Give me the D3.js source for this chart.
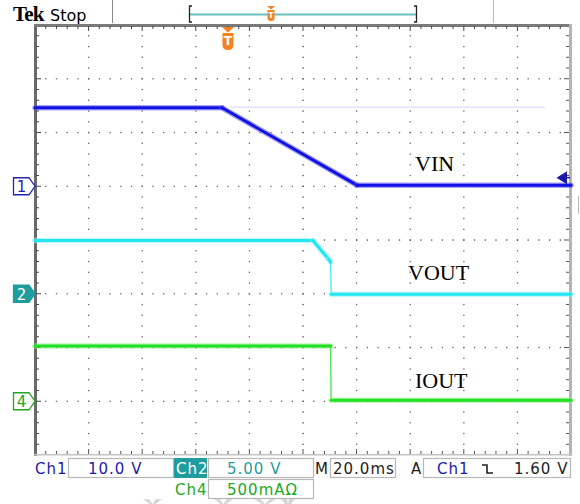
<!DOCTYPE html>
<html>
<head>
<meta charset="utf-8">
<script src="https://cdn.jsdelivr.net/npm/d3@7"></script>
<style>
  html, body { margin: 0; padding: 0; background: #fff; }
  svg { display: block; }
</style>
</head>
<body>
<svg id="scope" width="580" height="504"></svg>
<script>
// ---- acquisition data (time in ms relative to trigger) ----
const timeDomain = [-72, 128];          // 10 divisions x 20 ms
const vinTime  = [-72, -2.2, 48.1, 128];
const vinVolts = [14.6, 14.6, 0.2, 0.2];
const vinRefTime  = [0.8, 118.3];        // faint persisted VIN level
const vinRefVolts = [14.7, 14.7];
const voutTime  = [-72, 31.7, 37.6, 38.3, 38.5, 128];
const voutVolts = [4.95, 4.95, 3.2, 2.95, -0.05, -0.05];
const ioutTime = [-72, 38.3, 38.5, 128];
const ioutAmps = [0.515, 0.515, 0.01, 0.01];

const traceLabels = ["VIN", "VOUT", "IOUT"];
const triggerLevel = 1.6;               // V on Ch1

// vertical setups: units/div and ground position (divisions from top)
const ch1Scale = 10, ch1Ground = 3;
const ch2Scale = 5,  ch2Ground = 5;
const ch4Scale = 0.5, ch4Ground = 7;

const readoutRow1 = ["Ch1", "10.0 V", "Ch2", "5.00 V", "M", "20.0ms", "A", "Ch1", "1.60 V"];
const readoutRow2 = ["Ch4", "500mA\u03A9"];

// ---- layout ----
const L = 35, R = 571, TOP = 25, B = 455;
const nx = 10, ny = 8;
const svg = d3.select("#scope");

const x = d3.scaleLinear().domain(timeDomain).range([L, R]);
const gx = d3.scaleLinear().domain([0, nx]).range([L, R]);
const gy = d3.scaleLinear().domain([0, ny]).range([TOP, B]);
function chScale(perDiv, ground) {
  return d3.scaleLinear().domain([-(ny - ground) * perDiv, ground * perDiv]).range([B, TOP]);
}
const y1 = chScale(ch1Scale, ch1Ground);
const y2 = chScale(ch2Scale, ch2Ground);
const y4 = chScale(ch4Scale, ch4Ground);

// ---- graticule ----
const grid = svg.append("g");
const minorX = d3.range(1, nx * 5).map(i => gx(i / 5));
const minorY = d3.range(1, ny * 5).map(i => gy(i / 5));
d3.range(1, nx).forEach(i => {
  const cx = gx(i);
  minorY.forEach(py => grid.append("rect").attr("x", cx - 0.6).attr("y", py - 0.6)
    .attr("width", 1.3).attr("height", 1.3).attr("fill", i === 5 ? "#444" : "#666"));
});
d3.range(1, ny).forEach(j => {
  const cy = gy(j);
  minorX.forEach(px => grid.append("rect").attr("x", px - 0.6).attr("y", cy - 0.6)
    .attr("width", 1.3).attr("height", 1.3).attr("fill", j === 4 ? "#444" : "#666"));
});

// frame
grid.append("rect").attr("x", L - 1).attr("y", TOP - 1).attr("width", 3).attr("height", B - TOP + 2).attr("fill", "#6a6a6a");
grid.append("rect").attr("x", L - 1).attr("y", TOP - 1).attr("width", R - L + 2).attr("height", 3).attr("fill", "#7a7a7a");
grid.append("rect").attr("x", R - 2).attr("y", TOP - 1).attr("width", 3).attr("height", B - TOP + 2).attr("fill", "#b4b4b4");
grid.append("rect").attr("x", L - 1).attr("y", B - 1).attr("width", R - L + 2).attr("height", 1.5).attr("fill", "#c4c4c4");
// frame ticks
d3.range(1, nx * 5).forEach(i => {
  const px = gx(i / 5), len = i % 5 === 0 ? 5 : 3;
  grid.append("line").attr("x1", px).attr("x2", px).attr("y1", TOP + 1).attr("y2", TOP + 1 + len)
    .attr("stroke", "#444").attr("stroke-width", 1);
  grid.append("line").attr("x1", px).attr("x2", px).attr("y1", B - 1).attr("y2", B - 1 - len)
    .attr("stroke", "#555").attr("stroke-width", 1);
});
d3.range(1, ny * 5).forEach(i => {
  const py = gy(i / 5), len = i % 5 === 0 ? 5 : 3;
  grid.append("line").attr("y1", py).attr("y2", py).attr("x1", L + 1).attr("x2", L + 1 + len)
    .attr("stroke", "#444").attr("stroke-width", 1);
  grid.append("line").attr("y1", py).attr("y2", py).attr("x1", R - 2).attr("x2", R - 2 - len)
    .attr("stroke", "#555").attr("stroke-width", 1);
});

// ---- traces ----
const line = d3.line();
function trace(times, vals, ys, core, halo) {
  const pts = times.map((t, i) => [x(t), ys(vals[i])]);
  const g = svg.append("g");
  for (let i = 0; i < pts.length - 1; i++) {
    const a = pts[i], b = pts[i + 1];
    const steep = Math.abs(b[1] - a[1]) > 8 * Math.abs(b[0] - a[0]);
    if (!steep) {
      g.append("path").attr("d", line([a, b])).attr("fill", "none")
        .attr("stroke", halo).attr("stroke-opacity", 0.55)
        .attr("stroke-width", 5.5).attr("stroke-linecap", "round");
    }
    g.append("path").attr("d", line([a, b])).attr("fill", "none")
      .attr("stroke", core).attr("stroke-width", steep ? 1.4 : 3)
      .attr("stroke-linecap", "round").attr("stroke-opacity", steep ? 0.8 : 1);
  }
}
// persisted reference level
svg.append("path").attr("d", line(vinRefTime.map((t, i) => [x(t), y1(vinRefVolts[i])])))
  .attr("fill", "none").attr("stroke", "#e2e2fa").attr("stroke-width", 1.5);

trace(vinTime, vinVolts, y1, "#1212e2", "#5a5aee");
trace(voutTime, voutVolts, y2, "#22e6f2", "#8ef3f8");
trace(ioutTime, ioutAmps, y4, "#20e020", "#86f086");

// ---- trace names ----
const labelPos = [[415, y1(0) - 15], [408, y2(0) - 14], [415, y4(0) - 13]];
svg.selectAll("text.tname").data(traceLabels).join("text").attr("class", "tname")
  .attr("x", (d, i) => labelPos[i][0]).attr("y", (d, i) => labelPos[i][1])
  .attr("font-family", "Liberation Serif, Times New Roman, serif").attr("font-size", 22)
  .attr("fill", "#000").text(d => d);

// ---- channel ground markers ----
function chMarker(label, py, fill, stroke, txt) {
  const g = svg.append("g");
  g.append("path").attr("d", `M13.5,${py - 8.5} H29 L35,${py} L29,${py + 8.5} H13.5 Z`)
    .attr("fill", fill).attr("stroke", stroke).attr("stroke-width", 1.3);
  g.append("text").attr("x", 21.5).attr("y", py + 6).attr("text-anchor", "middle")
    .attr("font-family", "DejaVu Sans, sans-serif").attr("font-size", 15).attr("fill", txt).text(label);
}
chMarker("1", y1(0), "#ffffff", "#2323b4", "#2323b4");
chMarker("2", y2(0), "#1f9d9d", "#1f9d9d", "#ffffff");
chMarker("4", y4(0), "#ffffff", "#22a822", "#22a822");

// trigger level arrow (right edge)
const ty = y1(triggerLevel);
svg.append("path").attr("d", `M556.5,${ty} L567,${ty - 6.5} L567,${ty + 6.5} Z`).attr("fill", "#1a1aa6");
svg.append("line").attr("x1", 565).attr("x2", 570).attr("y1", ty).attr("y2", ty)
  .attr("stroke", "#1a1aa6").attr("stroke-width", 1.5);

// trigger position marker
const orange = "#f4821e";
function trigMark(parent, cx, y0, w, h) {
  const g = parent.append("g");
  g.append("path").attr("d", `M${cx - w / 2},${y0} H${cx + w / 2} L${cx},${y0 + w * 0.45} Z`).attr("fill", orange);
  const s = y0 + w * 0.5;
  g.append("path").attr("d", `M${cx - w / 2 + 0.5},${s} H${cx + w / 2 - 0.5} V${s + h * 0.7} Q${cx + w / 2 - 0.5},${s + h} ${cx},${s + h} Q${cx - w / 2 + 0.5},${s + h} ${cx - w / 2 + 0.5},${s + h * 0.7} Z`)
    .attr("fill", orange);
  g.append("text").attr("x", cx).attr("y", s + h * 0.72).attr("text-anchor", "middle")
    .attr("font-family", "DejaVu Sans, sans-serif").attr("font-weight", "bold")
    .attr("font-size", h * 0.72).attr("fill", "#fff").text("T");
}
trigMark(svg, x(0), 27, 12, 17);

// ---- top status bar ----
const topBar = svg.append("g");
topBar.append("text").attr("x", 13).attr("y", 21).attr("font-family", "Liberation Serif, serif")
  .attr("font-weight", "bold").attr("font-size", 21).attr("letter-spacing", -0.8).text("Tek");
topBar.append("text").attr("x", 50).attr("y", 21).attr("font-family", "DejaVu Sans, sans-serif")
  .attr("font-size", 16).text("Stop");
topBar.append("line").attr("x1", 112.5).attr("x2", 112.5).attr("y1", 0).attr("y2", 23).attr("stroke", "#8a8a8a");
topBar.append("line").attr("x1", 493.5).attr("x2", 493.5).attr("y1", 0).attr("y2", 23).attr("stroke", "#bdbdbd");
topBar.append("line").attr("x1", 190).attr("x2", 416).attr("y1", 14.5).attr("y2", 14.5)
  .attr("stroke", "#6cbfbf").attr("stroke-width", 2);
topBar.append("path").attr("d", "M192,6 H189.5 V22 H192").attr("fill", "none").attr("stroke", "#222").attr("stroke-width", 1.3);
topBar.append("path").attr("d", "M414,6 H416.5 V22 H414").attr("fill", "none").attr("stroke", "#222").attr("stroke-width", 1.3);
// record-position marker
trigMark(topBar, 271, 6, 8, 11);

// right-edge separator
svg.append("line").attr("x1", 578.5).attr("x2", 578.5).attr("y1", 196).attr("y2", 214).attr("stroke", "#bbb");

// ---- bottom readouts ----
const bot = svg.append("g").attr("font-family", "DejaVu Sans, sans-serif").attr("font-size", 15);
function box(x0, y0, w, h) {
  bot.append("rect").attr("x", x0 + 0.5).attr("y", y0 + 0.5).attr("width", w).attr("height", h)
    .attr("fill", "#fff").attr("stroke", "#b8b8b8").attr("stroke-width", 1.2);
}
box(68, 458, 105, 19);
box(208, 458, 105, 19);
box(330, 458, 65, 19);
box(423, 458, 147, 19);
box(208, 479, 105, 19);
bot.append("rect").attr("x", 174).attr("y", 458).attr("width", 33).attr("height", 20).attr("fill", "#1f9d9d");

const blue = "#1c1caa", teal = "#1f9d9d", green = "#22a822";
const r1 = [
  [35, blue], [88, blue], [176, "#fff"], [227, teal], [315, "#222"], [333, "#222"], [411, "#222"], [437, blue], [514, "#222"]
];
readoutRow1.forEach((t, i) => {
  bot.append("text").attr("x", r1[i][0]).attr("y", 474).attr("fill", r1[i][1])
    .attr("letter-spacing", 1).text(t);
});
const r2 = [[175, green], [227, green]];
readoutRow2.forEach((t, i) => {
  bot.append("text").attr("x", r2[i][0]).attr("y", 495).attr("fill", r2[i][1])
    .attr("letter-spacing", 1).text(t);
});
// falling-slope symbol
bot.append("path").attr("d", "M482,465 H487 V473 H493").attr("fill", "none").attr("stroke", "#222").attr("stroke-width", 1.6);

// faint watermark fragments along the bottom edge
const wm = svg.append("g").attr("fill", "#d6d6d6");
[[143, 162], [214, 233], [254, 276], [281, 295]].forEach(([a, b]) => {
  wm.append("path").attr("d", `M${a},499 H${a + 6} L${(a + b) / 2},504 L${b - 6},499 H${b} L${(a + b) / 2 + 3},504 H${(a + b) / 2 - 3} Z`);
});
</script>
</body>
</html>
